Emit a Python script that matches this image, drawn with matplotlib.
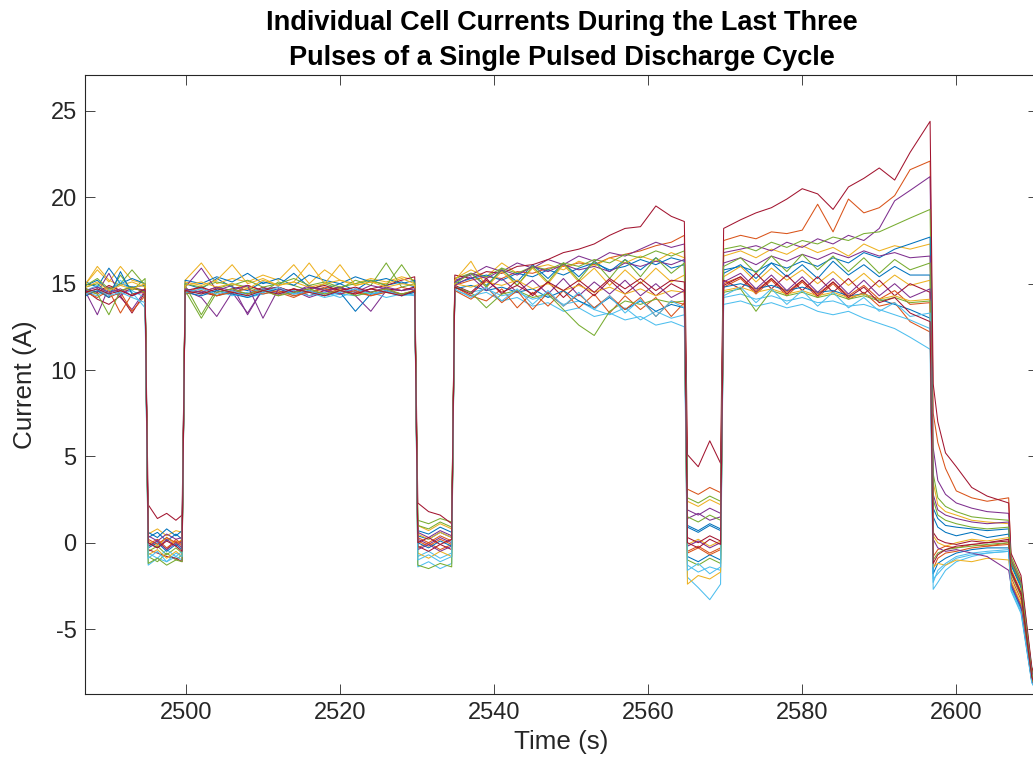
import matplotlib

matplotlib.use("Agg")
import matplotlib.pyplot as plt

# MATLAB-style default line colour order
COLORS = ["#0072BD", "#D95319", "#EDB120", "#7E2F8E", "#77AC30", "#4DBEEE", "#A2142F"]
INK = "#262626"

plt.rcParams.update({
    "font.family": ["Liberation Sans", "DejaVu Sans"],
    "axes.unicode_minus": False,
    "axes.edgecolor": INK, "axes.labelcolor": INK,
    "xtick.color": INK, "ytick.color": INK,
    "xtick.direction": "in", "ytick.direction": "in",
    "xtick.top": True, "ytick.right": True,
})

# sample times (s), grouped by phase of the pulse train
t_pulse_a = [2487.0, 2488.5, 2490.0, 2491.5, 2493.0, 2494.7]
t_rest_1 = [2495.1, 2496.3, 2497.5, 2498.7, 2499.5]
t_pulse_b = [2499.9, 2502, 2504, 2506, 2508, 2510, 2512, 2514, 2516, 2518,
             2520, 2522, 2524, 2526, 2528, 2529.7]
t_rest_2 = [2530.1, 2531.5, 2533.0, 2534.5]
t_pulse_c = [2534.9, 2537, 2539, 2541, 2543, 2545, 2547, 2549, 2551, 2553,
             2555, 2557, 2559, 2561, 2563, 2564.7]
t_rest_3 = [2565.1, 2566.5, 2568.0, 2569.4]
t_pulse_d = [2569.8, 2572, 2574, 2576, 2578, 2580, 2582, 2584, 2586, 2588,
             2590, 2592, 2594, 2596.6]
t_rest_4 = [2597.0, 2597.6, 2598.6, 2600.0, 2602.0, 2604.0, 2606.8]
t_tail = [2607.1, 2608.4, 2609.8, 2610.4]

time_s = (t_pulse_a + t_rest_1 + t_pulse_b + t_rest_2 + t_pulse_c
          + t_rest_3 + t_pulse_d + t_rest_4 + t_tail)

# cell currents (A) at the sample times above
cell_01 = [14.9, 15.2, 14.6, 15.0, 14.8, 14.9,
           0.3, 0.6, 0.1, 0.5, 0.2,
           15.0, 14.7, 15.3, 14.8, 14.6, 15.1, 14.9, 15.6, 14.8, 14.7, 15.0, 14.6, 15.2, 14.9, 15.1, 14.8,
           0.4, 0.2, 0.6, 0.3,
           15.1, 15.6, 14.9, 15.8, 15.1, 16.1, 15.3, 16.2, 15.4, 16.3, 15.7, 16.4, 15.8, 16.5, 15.9, 16.1,
           0.9, 0.6, 1.0, 0.7,
           15.6, 16.1, 15.3, 16.2, 15.4, 16.1, 15.3, 16.3, 15.5, 16.1, 15.4, 16.0, 15.5, 15.5,
           1.5, 0.9, 0.6, 0.4, 0.6, 0.3, 0.5,
           -1.3, -2.6, -7.7, -8.3]
cell_02 = [14.6, 14.4, 14.8, 14.5, 14.7, 14.6,
           -0.2, 0.1, -0.4, 0.2, -0.1,
           14.7, 14.5, 14.8, 14.4, 14.9, 14.6, 14.3, 14.7, 14.5, 14.8, 14.6, 14.4, 14.7, 14.5, 14.8, 14.6,
           0.3, 0.0, 0.4, 0.1,
           14.9, 15.2, 15.4, 15.3, 15.7, 15.6, 15.9, 16.0, 16.2, 16.1, 16.5, 16.7, 16.9, 17.2, 17.4, 17.8,
           3.1, 2.8, 3.2, 2.9,
           17.5, 17.8, 17.6, 18.0, 17.9, 18.1, 19.6, 18.0, 19.9, 19.1, 19.4, 20.1, 21.6, 22.1,
           7.5, 5.8, 4.3, 3.0, 2.6, 2.4, 2.6,
           -1.0, -2.3, -7.4, -8.2]
cell_03 = [15.0, 15.8, 15.1, 16.0, 15.2, 15.0,
           0.5, 0.8, 0.4, 0.7, 0.6,
           15.2, 16.2, 15.0, 15.3, 15.1, 15.5, 15.2, 16.1, 15.0, 15.8, 15.2, 15.0, 15.3, 15.1, 15.4, 15.2,
           1.0, 0.7, 1.1, 0.8,
           15.3, 15.8, 15.4, 16.2, 15.6, 15.9, 16.1, 15.8, 16.3, 16.0, 16.5, 16.2, 16.6, 16.3, 16.8, 16.5,
           2.4, 2.1, 2.5, 2.2,
           16.6, 16.9, 16.5, 17.0, 16.7, 17.2, 16.8, 17.1, 16.6, 17.3, 16.9, 17.2, 17.0, 17.3,
           3.5, 2.2, 1.8, 1.6, 1.3, 1.2, 1.1,
           -0.9, -2.2, -7.4, -8.1]
cell_04 = [14.5, 13.2, 14.8, 14.2, 13.5, 14.6,
           0.0, -0.3, 0.2, -0.2, 0.1,
           14.6, 14.2, 13.1, 14.5, 13.3, 14.7, 14.4, 14.6, 14.2, 14.5, 14.8, 14.3, 13.4, 14.6, 14.4, 14.5,
           0.2, -0.1, 0.3, 0.0,
           15.2, 15.5, 16.0, 15.7, 16.2, 15.9, 16.4, 16.1, 16.6, 16.3, 16.8, 16.6, 17.0, 17.4, 17.1, 17.3,
           1.9, 1.6, 2.0, 1.7,
           16.8, 17.0, 17.2, 16.9, 17.4, 17.1, 17.6, 17.3, 17.8, 17.5, 18.2, 19.8, 20.4, 21.2,
           5.5, 3.6, 2.8, 2.3, 2.0, 1.8, 1.7,
           -1.1, -2.4, -7.5, -8.2]
cell_05 = [14.8, 15.0, 14.4, 15.5, 14.6, 15.3,
           -0.8, -1.1, -0.6, -1.0, -0.7,
           14.9, 13.2, 14.7, 15.0, 14.8, 14.5, 15.1, 14.9, 14.6, 15.0, 14.7, 15.2, 14.9, 16.2, 14.8, 15.0,
           1.3, 1.1, 1.4, 1.2,
           15.3, 15.6, 15.4, 15.9, 15.6, 16.0, 15.8, 16.2, 16.0, 16.4, 16.2, 16.7, 16.5, 16.9, 16.6, 16.9,
           2.6, 2.3, 2.7, 2.4,
           17.0, 17.2, 16.9, 17.4, 17.1, 17.5, 17.3, 17.7, 17.5, 17.9, 18.0, 18.4, 18.8, 19.3,
           4.0, 2.6, 2.1, 1.8, 1.5, 1.4, 1.3,
           -0.8, -2.1, -7.3, -8.1]
cell_06 = [14.5, 14.3, 14.7, 14.4, 14.6, 14.2,
           -1.3, -0.9, -1.1, -0.8, -1.0,
           14.4, 14.6, 14.3, 14.5, 14.2, 14.4, 14.6, 14.3, 14.5, 14.2, 14.4, 14.3, 14.5, 14.2, 14.4, 14.3,
           -1.4, -1.1, -1.5, -1.2,
           14.6, 14.3, 14.5, 14.0, 14.2, 13.7, 13.9, 13.4, 13.6, 13.1, 13.3, 12.9, 13.1, 12.6, 12.8, 12.5,
           -2.0, -2.6, -3.3, -2.4,
           13.8, 14.0, 13.7, 13.9, 13.6, 13.8, 13.4, 13.2, 13.4, 13.0, 12.7, 12.4, 11.9, 11.2,
           -2.7, -2.3, -1.6, -1.1, -0.8, -0.6, -0.5,
           -2.8, -4.1, -8.1, -8.6]
cell_07 = [14.6, 14.1, 13.8, 14.3, 13.3, 14.5,
           2.2, 1.4, 1.7, 1.3, 1.6,
           14.7, 14.5, 14.3, 14.6, 14.4, 14.8, 14.5, 14.7, 14.3, 14.6, 14.8, 14.5, 14.7, 14.9, 15.2, 15.4,
           2.3, 1.8, 1.6, 1.1,
           15.5, 15.3, 15.7, 15.6, 16.0, 16.1, 16.4, 16.8, 17.0, 17.3, 17.8, 18.2, 18.3, 19.5, 18.9, 18.6,
           5.1, 4.4, 5.9, 4.6,
           18.2, 18.7, 19.1, 19.4, 19.9, 20.5, 20.2, 19.3, 20.6, 21.1, 21.7, 21.0, 22.6, 24.4,
           9.2, 7.0, 5.2, 4.4, 3.2, 2.7, 2.3,
           -0.6, -1.9, -7.2, -8.0]
cell_08 = [15.1, 14.8, 15.9, 15.0, 15.3, 15.0,
           0.6, 0.3, 0.8, 0.4, 0.7,
           15.2, 15.0, 15.4, 15.1, 15.6, 15.0, 15.3, 14.9, 15.5, 15.2, 15.0, 15.4, 15.1, 15.3, 15.0, 15.2,
           0.7, 0.5, 0.9, 0.6,
           15.0, 15.3, 15.5, 15.2, 15.6, 15.4, 15.8, 15.5, 15.9, 16.2, 15.8, 16.0, 16.4, 16.1, 16.5, 16.3,
           1.0, 0.7, 1.1, 0.8,
           15.8, 16.0, 15.7, 16.2, 15.9, 16.3, 16.0, 16.5, 16.2, 16.8, 16.5, 17.0, 17.3, 17.7,
           2.0, 1.4, 1.0, 0.9, 0.8, 0.7, 0.8,
           -1.2, -2.5, -7.6, -8.3]
cell_09 = [14.4, 14.7, 14.2, 14.5, 13.4, 14.3,
           -0.1, 0.2, -0.3, 0.1, -0.2,
           14.5, 14.8, 14.3, 14.6, 14.4, 14.7, 14.5, 14.2, 14.6, 14.4, 14.7, 14.5, 14.3, 14.6, 14.4, 14.5,
           -0.3, 0.0, -0.4, -0.1,
           14.8, 14.3, 14.0, 14.7, 13.6, 14.5, 13.7, 14.6, 13.6, 14.4, 13.3, 14.3, 13.5, 14.2, 13.1, 13.9,
           -0.5, -0.2, -0.6, -0.3,
           14.8, 15.3, 14.4, 15.2, 14.3, 15.1, 14.2, 15.0, 14.1, 14.5, 13.7, 13.9, 12.8, 12.2,
           -1.5, -0.9, -0.6, -0.5, -0.3, -0.2, -0.1,
           -2.3, -3.6, -7.9, -8.5]
cell_10 = [15.0, 16.0, 15.2, 14.9, 15.1, 14.8,
           0.1, -0.2, 0.3, -0.1, 0.2,
           15.1, 14.9, 15.2, 16.1, 15.0, 15.3, 14.9, 15.1, 16.2, 15.0, 15.2, 14.9, 15.1, 15.0, 15.3, 15.0,
           0.5, 0.2, 0.6, 0.3,
           15.2, 16.3, 14.8, 15.7, 14.9, 15.9, 15.0, 16.1, 15.1, 15.9, 14.9, 15.8, 15.0, 15.9, 15.1, 15.5,
           -0.1, 0.2, -0.2, 0.1,
           15.4, 16.0, 15.1, 15.9, 15.2, 15.8, 15.0, 15.7, 14.9, 15.6, 14.8, 15.5, 14.9, 15.2,
           0.4, 0.0, -0.2, 0.0, 0.2, 0.1, 0.3,
           -1.5, -2.8, -7.8, -8.4]
cell_11 = [14.7, 14.5, 15.6, 14.3, 14.8, 14.6,
           0.4, 0.1, 0.5, 0.2, 0.3,
           14.8, 15.9, 14.6, 14.9, 13.2, 14.7, 14.8, 14.5, 14.9, 14.6, 14.8, 14.5, 14.9, 14.7, 14.6, 14.8,
           0.6, 0.3, 0.7, 0.4,
           15.1, 15.6, 15.3, 15.8, 15.5, 16.0, 15.7, 16.1, 15.8, 16.0, 15.7, 16.2, 16.0, 16.3, 16.1, 16.4,
           1.4, 1.7, 1.3, 1.5,
           16.2, 16.5, 16.1, 16.6, 16.3, 16.7, 16.4, 16.8, 16.5, 16.9, 16.6, 16.8, 16.5, 16.6,
           2.8, 1.9, 1.6, 1.4, 1.2, 1.1, 1.2,
           -1.0, -2.3, -7.5, -8.2]
cell_12 = [14.9, 15.3, 14.7, 15.0, 15.8, 14.9,
           -0.5, -0.2, -0.7, -0.3, -0.6,
           15.0, 14.8, 15.1, 14.9, 15.2, 14.8, 15.0, 15.3, 14.9, 15.1, 14.8, 15.0, 15.2, 14.9, 16.1, 15.0,
           1.0, 0.8, 1.2, 0.9,
           15.0, 15.6, 14.8, 15.9, 14.9, 16.0, 15.1, 16.2, 15.2, 16.3, 15.3, 16.4, 15.4, 16.5, 15.6, 16.2,
           1.5, 1.2, 1.6, 1.3,
           16.0, 16.5, 15.6, 16.6, 15.7, 16.7, 15.8, 16.6, 15.7, 16.5, 15.6, 16.4, 15.8, 16.2,
           2.5, 1.6, 1.3, 1.1, 0.9, 0.8, 0.9,
           -1.1, -2.4, -7.6, -8.3]
cell_13 = [14.6, 14.9, 14.4, 15.2, 14.5, 13.6,
           -0.6, -0.9, -0.4, -0.8, -0.5,
           14.7, 14.4, 14.6, 14.3, 14.5, 14.7, 14.4, 14.6, 14.3, 14.5, 14.2, 14.6, 14.4, 14.5, 14.3, 14.6,
           -0.8, -0.5, -0.9, -0.6,
           14.8, 14.5, 14.7, 14.3, 14.5, 14.1, 14.3, 13.8, 14.0, 13.5, 13.2, 13.6, 12.9, 13.4, 13.0, 13.2,
           -1.3, -1.7, -1.4, -1.6,
           14.2, 14.4, 14.1, 14.3, 14.0, 14.2, 13.9, 14.0, 13.7, 13.8, 13.5, 13.2, 12.9, 12.4,
           -2.1, -1.8, -1.3, -0.9, -0.7, -0.6, -0.5,
           -2.6, -3.9, -8.0, -8.6]
cell_14 = [14.7, 14.5, 14.9, 14.6, 14.8, 14.5,
           -0.4, -0.6, -0.8, -0.9, -1.1,
           14.6, 14.8, 14.5, 14.7, 14.9, 14.6, 14.8, 14.5, 14.7, 14.9, 14.6, 14.8, 14.5, 14.7, 14.6, 14.8,
           -0.2, -0.5, -0.1, -0.4,
           14.9, 14.5, 15.3, 14.4, 15.2, 14.3, 15.1, 14.2, 15.0, 14.3, 15.2, 14.4, 15.1, 14.3, 15.0, 14.6,
           0.3, 0.0, 0.4, 0.1,
           15.2, 14.7, 15.6, 14.7, 15.5, 14.6, 15.4, 14.5, 15.3, 14.4, 15.2, 14.3, 15.0, 14.5,
           0.6, 0.2, 0.0, -0.1, 0.1, 0.0, 0.1,
           -1.6, -2.9, -7.8, -8.4]
cell_15 = [14.3, 14.6, 14.2, 15.7, 14.4, 14.6,
           -0.3, 0.0, -0.5, -0.1, -0.4,
           14.5, 14.3, 14.6, 14.4, 14.2, 14.5, 14.7, 14.4, 14.6, 14.3, 14.5, 13.4, 14.4, 14.6, 14.3, 14.5,
           0.0, -0.3, 0.1, -0.2,
           14.7, 14.9, 14.6, 14.8, 14.5, 14.7, 14.2, 14.6, 14.0, 13.6, 14.2, 13.5, 14.0, 13.4, 13.8, 13.6,
           -0.8, -1.1, -0.7, -1.0,
           14.8, 15.0, 14.7, 14.9, 14.6, 14.8, 14.5, 14.6, 14.3, 14.4, 14.1, 13.8, 13.5, 13.0,
           -1.8, -1.2, -0.9, -0.6, -0.4, -0.3, -0.3,
           -2.5, -3.8, -8.0, -8.5]
cell_16 = [14.5, 14.2, 14.6, 13.3, 14.4, 14.5,
           0.2, -0.1, 0.3, 0.0, 0.1,
           14.4, 14.6, 14.3, 14.5, 14.7, 14.4, 14.6, 14.3, 14.5, 14.7, 14.4, 14.6, 14.3, 14.5, 14.4, 14.6,
           0.1, -0.2, 0.2, -0.1,
           14.6, 14.1, 14.8, 13.9, 14.6, 13.5, 14.5, 13.7, 14.4, 13.6, 14.3, 13.5, 14.2, 13.1, 14.0, 13.8,
           -0.6, -0.3, -0.7, -0.4,
           15.0, 15.4, 14.6, 15.3, 14.5, 15.2, 14.4, 15.1, 14.3, 14.9, 14.1, 14.6, 13.8, 13.9,
           -0.8, -0.4, -0.2, -0.3, -0.1, -0.2, 0.0,
           -2.0, -3.3, -7.9, -8.5]
cell_17 = [14.8, 15.1, 14.6, 14.9, 14.7, 15.0,
           -0.7, -0.4, -0.9, -0.5, -0.8,
           14.9, 15.1, 14.8, 15.0, 14.7, 15.2, 14.9, 15.1, 14.8, 15.0, 16.1, 14.9, 15.1, 14.8, 15.0, 14.9,
           -0.6, -0.9, -0.5, -0.8,
           15.0, 14.8, 15.1, 14.9, 15.2, 14.7, 15.0, 14.6, 14.9, 14.5, 14.8, 14.4, 14.7, 14.3, 14.6, 14.5,
           -2.4, -1.9, -2.1, -1.7,
           14.6, 14.8, 14.5, 14.7, 14.4, 14.6, 14.3, 14.5, 14.2, 14.4, 14.1, 14.3, 14.0, 14.1,
           -1.4, -1.2, -1.3, -1.0, -1.1, -0.9, -1.0,
           -2.2, -3.5, -8.0, -8.5]
cell_18 = [14.6, 14.8, 14.5, 14.7, 14.3, 14.6,
           -0.2, 0.1, -0.4, 0.0, -0.3,
           14.7, 14.5, 14.8, 14.6, 14.9, 13.0, 14.7, 14.5, 14.8, 14.6, 14.4, 14.7, 14.5, 14.8, 14.6, 14.7,
           -0.4, -0.1, -0.5, -0.2,
           14.9, 15.4, 14.6, 15.3, 14.5, 15.2, 14.4, 15.3, 14.3, 15.1, 14.4, 15.2, 14.3, 15.0, 14.2, 14.6,
           -0.2, 0.1, -0.3, 0.0,
           15.1, 15.6, 14.7, 15.5, 14.6, 15.4, 14.5, 15.3, 14.4, 15.2, 14.3, 15.0, 14.2, 14.7,
           0.2, -0.3, -0.5, -0.4, -0.6, -0.8, -1.6,
           -2.4, -3.7, -8.0, -8.5]
cell_19 = [14.7, 14.4, 13.2, 14.6, 14.8, 14.5,
           -1.2, -0.9, -1.3, -1.0, -1.1,
           14.6, 13.0, 14.5, 14.7, 14.4, 14.6, 14.3, 14.5, 14.7, 14.4, 14.6, 14.3, 14.5, 14.7, 14.4, 14.6,
           -1.3, -1.5, -1.2, -1.4,
           14.8, 14.5, 13.6, 14.4, 14.6, 14.2, 14.4, 13.5, 12.6, 12.0, 13.4, 14.0, 13.8, 14.1, 13.9, 14.0,
           -1.0, -1.3, -0.9, -1.2,
           14.5, 14.7, 13.4, 14.6, 14.3, 14.5, 14.2, 14.4, 14.1, 14.3, 14.0, 14.2, 13.9, 14.0,
           -1.0, -0.6, -0.4, -0.3, -0.2, -0.1, 0.0,
           -1.8, -3.1, -7.9, -8.4]
cell_20 = [14.4, 14.7, 14.3, 14.5, 14.2, 13.9,
           -0.9, -0.5, -1.1, -0.6, -0.8,
           14.5, 14.7, 14.4, 14.6, 14.3, 14.5, 14.8, 14.4, 14.6, 14.3, 14.5, 14.7, 14.4, 14.6, 14.3, 14.4,
           -1.0, -0.7, -1.1, -0.8,
           14.7, 14.2, 14.8, 14.0, 14.7, 13.8, 14.6, 13.7, 14.5, 13.5, 14.3, 13.3, 14.1, 13.1, 14.0, 13.6,
           -1.6, -1.2, -1.8, -1.4,
           14.3, 14.8, 13.9, 14.7, 13.8, 14.6, 13.7, 14.5, 13.6, 14.2, 13.4, 13.9, 13.1, 13.3,
           -2.3, -1.6, -1.2, -0.8, -0.6, -0.5, -0.4,
           -2.7, -4.0, -8.1, -8.6]
cell_21 = [14.5, 14.7, 14.4, 14.6, 14.3, 14.7,
           0.0, -0.3, 0.1, -0.2, -0.5,
           14.6, 14.4, 14.7, 14.5, 14.3, 14.6, 14.4, 14.7, 14.5, 14.3, 14.6, 14.4, 14.7, 14.5, 14.3, 14.6,
           0.0, 0.3, -0.1, 0.2,
           14.8, 14.4, 15.2, 14.5, 14.9, 14.4, 15.1, 14.6, 15.2, 14.5, 15.3, 14.7, 15.3, 14.6, 15.2, 15.1,
           0.0, -0.3, 0.2, -0.1,
           14.9, 15.4, 14.5, 15.3, 14.4, 15.2, 14.3, 15.1, 14.2, 14.8, 13.9, 14.2, 13.3, 12.8,
           -1.2, -0.7, -0.4, -0.2, -0.1, 0.0, 0.2,
           -1.7, -3.0, -7.8, -8.4]

cells = [cell_01, cell_02, cell_03, cell_04, cell_05, cell_06, cell_07,
         cell_08, cell_09, cell_10, cell_11, cell_12, cell_13, cell_14,
         cell_15, cell_16, cell_17, cell_18, cell_19, cell_20, cell_21]

fig = plt.figure(figsize=(10.33, 7.76), dpi=100)
ax = fig.add_axes([0.0823, 0.1057, 0.9225, 0.798])

for i, current in enumerate(cells):
    assert len(current) == len(time_s)
    ax.plot(time_s, current, color=COLORS[i % len(COLORS)], lw=0.75)

ax.set_xlim(2486.9, 2610.6)
ax.set_ylim(-8.76, 27.1)
ax.set_xticks([2500, 2520, 2540, 2560, 2580, 2600])
ax.set_yticks([-5, 0, 5, 10, 15, 20, 25])
ax.tick_params(labelsize=17, length=7, width=0.6, pad=6)
for spine in ax.spines.values():
    spine.set_linewidth(0.8)

ax.set_xlabel("Time (s)", fontsize=18.7, labelpad=4)
ax.set_ylabel("Current (A)", fontsize=18.7, labelpad=10)
ax.set_title("Individual Cell Currents During the Last Three\n"
             "Pulses of a Single Pulsed Discharge Cycle",
             fontsize=19.5, fontweight="bold", color="black", pad=7, linespacing=1.45)

fig.savefig("out.png", dpi=100)
